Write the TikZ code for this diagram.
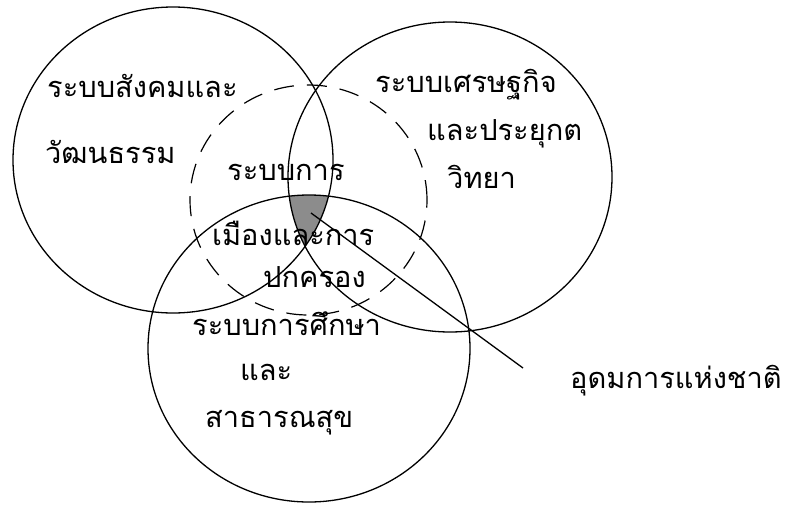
\documentclass[tikz,border=0pt]{standalone}
\usepackage{fontspec}
\newfontfamily\thaifont[Script=Thai]{Loma}
\usetikzlibrary{calc}
\tikzset{
  ring/.style={line width=1.3pt, draw=black},
  dashring/.style={line width=1.2pt, draw=black, dash pattern=on 20pt off 13pt},
  lbl/.style={anchor=base west, inner sep=0pt, font=\thaifont\fontsize{29}{31}\selectfont},
  pointer/.style={line width=1.3pt, draw=black}
}
\begin{document}
\begin{tikzpicture}[x=1pt,y=-1pt]
\useasboundingbox (0,0) rectangle (792,504);
% shaded common region
\begin{scope}
  \clip (173,160) ellipse [x radius=160pt, y radius=153pt];
  \clip (450,177) ellipse [x radius=162pt, y radius=155pt];
  \fill[black!45] (309,348.5) ellipse [x radius=161pt, y radius=153.5pt];
\end{scope}
% circles
\draw[ring] (173,160) ellipse [x radius=160pt, y radius=153pt];
\draw[ring] (450,177) ellipse [x radius=162pt, y radius=155pt];
\draw[ring] (309,348.5) ellipse [x radius=161pt, y radius=153.5pt];
\draw[dashring] (308.5,200) ellipse [x radius=118.5pt, y radius=115pt];
% labels
\node[lbl] (t1) at (47,97) {ระบบสังคมและ};
\node[lbl] (t2) at (45,163) {วัฒนธรรม};
\node[lbl] (t3) at (227,180) {ระบบการ};
\node[lbl] (t4) at (212,245) {เมืองและการ};
\node[lbl] (t5) at (263,287) {ปกครอง};
\node[lbl] (t6) at (192,335) {ระบบการศึกษา};
\node[lbl] (t7) at (240,380) {และ};
\node[lbl] (t8) at (205,427) {สาธารณสุข};
\node[lbl] (t9) at (375,92) {ระบบเศรษฐกิจ};
\node[lbl] (t10) at (427,140) {และประยุกต};
\node[lbl] (t11) at (447,188) {วิทยา};
\node[lbl] (t12) at (570,388) {อุดมการแห่งชาติ};
% pointer
\coordinate (core) at (311,213);
\coordinate (tip) at (523,368);
\draw[pointer] (core) -- (tip);
\end{tikzpicture}
\end{document}
